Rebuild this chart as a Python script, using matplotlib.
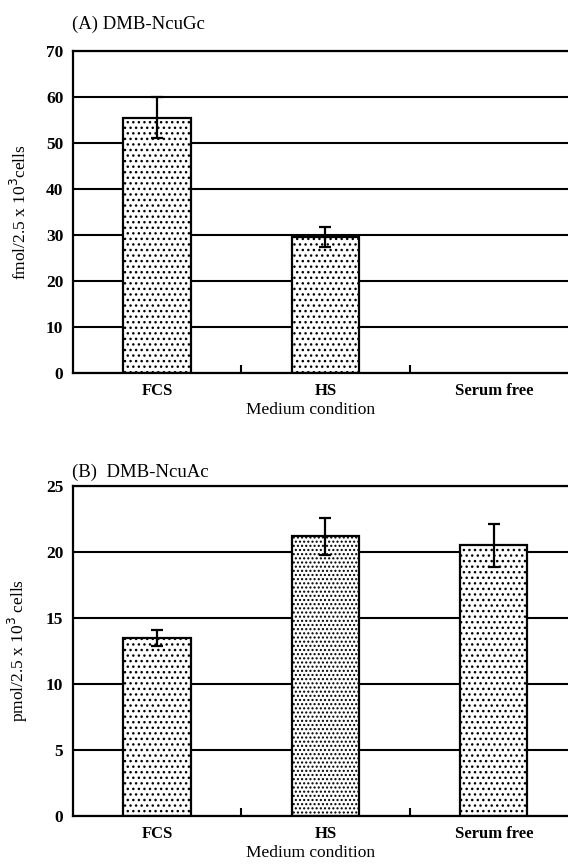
import numpy as np
import matplotlib
matplotlib.use('Agg')
import matplotlib.pyplot as plt
from matplotlib.ticker import FixedLocator

plt.rcParams['font.family'] = ['Liberation Serif', 'DejaVu Serif']
plt.rcParams['hatch.linewidth'] = 1.0

# 資料
categories = ['FCS', 'HS', 'Serum free']

neugc_values = [55.5, 29.5, np.nan]   # serum free: 沒有長條
neugc_errors = [4.5, 2.2, np.nan]

neuac_values = [13.5, 21.2, 20.5]
neuac_errors = [0.6, 1.4, 1.6]

fig = plt.figure(figsize=(5.68, 8.64), dpi=100)

ax_a = fig.add_axes([0.1285, 0.5683, 0.889, 0.3727])
ax_b = fig.add_axes([0.1285, 0.0556, 0.889, 0.3819])


def draw_panel(ax, values, errors, ymax, ystep, ylabel, hatches):
    x = np.arange(len(categories))
    ax.set_axisbelow(True)
    ax.yaxis.grid(True, color='black', linewidth=1.5)
    for xi, v, h in zip(x, values, hatches):
        if np.isnan(v):
            continue
        ax.bar(xi, v, width=0.4, color='white', edgecolor='black',
               linewidth=1.6, hatch=h, zorder=2)
    ax.errorbar(x, values, yerr=errors, fmt='none', ecolor='black',
                elinewidth=1.6, capsize=4.5, capthick=1.6, zorder=3)

    ax.set_xlim(-0.5, 2.5)
    ax.set_ylim(0, ymax)
    ax.set_yticks(np.arange(0, ymax + 1, ystep))
    ax.set_xticks(x)
    ax.set_xticklabels(categories, fontsize=12, fontweight='bold')
    ax.xaxis.set_minor_locator(FixedLocator([0.5, 1.5]))
    ax.tick_params(axis='x', which='major', length=0, pad=7)
    ax.tick_params(axis='x', which='minor', direction='in', length=6, width=1.5)
    ax.tick_params(axis='y', length=0, pad=7, labelsize=12.5)
    for lab in ax.get_yticklabels():
        lab.set_fontweight('bold')

    for s in ['left', 'bottom', 'top']:
        ax.spines[s].set_linewidth(1.6)
    ax.spines['right'].set_visible(False)

    ax.set_xlabel('Medium condition', fontsize=12.5)
    ax.xaxis.set_label_coords(0.47, -0.09 if ymax == 70 else -0.087)
    ax.set_ylabel(ylabel, fontsize=12.5)
    ax.yaxis.set_label_coords(-0.085, 0.5)


draw_panel(ax_a, neugc_values, neugc_errors, 70, 10,
           'fmol/2.5 x 10$^3$cells', ['...', '...', '...'])
draw_panel(ax_b, neuac_values, neuac_errors, 25, 5,
           'pmol/2.5 x 10$^3$ cells', ['...', '....', '...'])

fig.text(0.127, 1 - 24 / 864, '(A) DMB-NcuGc', fontsize=13.5, va='center')
fig.text(0.127, 1 - 472 / 864, '(B)  DMB-NcuAc', fontsize=13.5, va='center')

plt.savefig('out.png', dpi=100)
